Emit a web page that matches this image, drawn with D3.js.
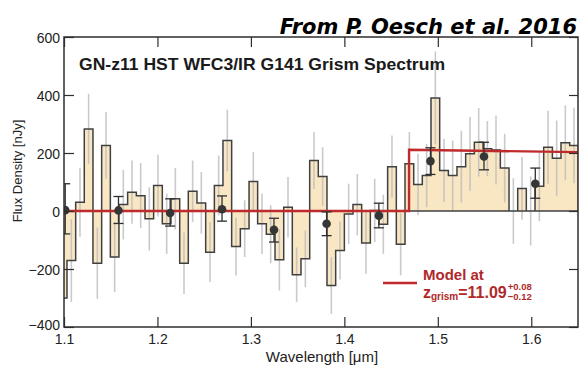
<!DOCTYPE html>
<html>
<head>
<meta charset="utf-8">
<script src="https://cdn.jsdelivr.net/npm/d3@7"></script>
<style>
  body { margin: 0; background: #fff; }
  svg { display: block; }
</style>
</head>
<body>
<div id="chart"></div>
<script>
// binned grism spectrum: left edges of each bin (last value closes the last bin)
const binEdges = [
  1.0939, 1.1032, 1.1125, 1.1217, 1.1310, 1.1403, 1.1496, 1.1588, 1.1681, 1.1774,
  1.1867, 1.1959, 1.2052, 1.2145, 1.2238, 1.2330, 1.2423, 1.2516, 1.2609, 1.2701,
  1.2794, 1.2887, 1.2980, 1.3072, 1.3165, 1.3258, 1.3351, 1.3443, 1.3536, 1.3629,
  1.3721, 1.3814, 1.3907, 1.4000, 1.4092, 1.4185, 1.4278, 1.4371, 1.4463, 1.4556,
  1.4649, 1.4742, 1.4834, 1.4927, 1.5020, 1.5113, 1.5205, 1.5298, 1.5391, 1.5484,
  1.5576, 1.5669, 1.5762, 1.5855, 1.5947, 1.6040, 1.6133, 1.6226, 1.6318, 1.6411,
  1.6504
];
// flux density per bin [nJy]
const binFlux = [
  -300, -171, 30, 283, -180, 226, -159, 22, 65, 53,
  -27, 88, -44, 42, -180, 68, 28, -142, 88, 243,
  -122, -61, 102, -44, -80, -168, 13, -220, -165, 174,
  119, -257, -136, -10, 22, -110, 2, -46, 153, -115,
  163, 91, 122, 390, 140, 122, 153, 197, 237, 215,
  210, 148, 0, 78, 0, 85, 220, 182, 235, 226
];
// 1 sigma uncertainty per bin (grey bars)
const binErr = [
  120, 143, 119, 121, 123, 115, 121, 120, 109, 112,
  109, 107, 104, 106, 106, 106, 106, 103, 103, 106,
  100, 98, 101, 104, 100, 106, 104, 94, 98, 98,
  101, 98, 100, 104, 106, 106, 109, 102, 107, 107,
  109, 106, 109, 160, 109, 121, 124, 127, 118, 95,
  119, 118, 113, 108, 119, 120, 126, 130, 129, 130
];

// averaged points with error bars
const ptWave = [1.1013, 1.1583, 1.2136, 1.2691, 1.3247, 1.3810, 1.4369, 1.4921, 1.5494, 1.6043];
const ptFlux = [3, 2, -7, 6, -65, -44, -16, 172, 188, 94];
const ptHi = [94, 50, 42, 52, -25, -3, 27, 218, 237, 148];
const ptLo = [-79, -43, -52, -35, -107, -85, -58, 126, 142, 44];

// break model
const modelWave = [1.1, 1.4692, 1.4692, 1.65];
const modelFlux = [0, 0, 211, 203];

const xTicks = [1.1, 1.2, 1.3, 1.4, 1.5, 1.6];
const yTicks = [-400, -200, 0, 200, 400, 600];

const W = 587, H = 368;
const margin = { top: 37, right: 9, bottom: 41, left: 64 };
const ink = '#2e2e2e';
const red = '#bf2a2c';

const svg = d3.select('#chart').append('svg')
  .attr('width', W)
  .attr('height', H)
  .style('font-family', '"Liberation Sans", Arial, sans-serif');

const x = d3.scaleLinear()
  .domain([1.1, 1.65])
  .range([margin.left, W - margin.right]);

const y = d3.scaleLinear()
  .domain([-400, 600])
  .range([H - margin.bottom, margin.top]);

svg.append('defs').append('clipPath')
  .attr('id', 'plot-clip')
  .append('rect')
  .attr('x', margin.left)
  .attr('y', margin.top)
  .attr('width', x.range()[1] - x.range()[0])
  .attr('height', y.range()[0] - y.range()[1]);

const plot = svg.append('g').attr('clip-path', 'url(#plot-clip)');

// step data: repeat last value at closing edge
const steps = binEdges.map((w, i) => ({ w, f: binFlux[Math.min(i, binFlux.length - 1)] }));

const area = d3.area()
  .x(d => x(d.w))
  .y0(y(0))
  .y1(d => y(d.f))
  .curve(d3.curveStepAfter);

plot.append('path')
  .datum(steps)
  .attr('d', area)
  .attr('fill', '#f9e7c3');

// grey uncertainties
const bins = binFlux.map((f, i) => ({ c: (binEdges[i] + binEdges[i + 1]) / 2, f, e: binErr[i] }));
plot.selectAll('line.err')
  .data(bins)
  .join('line')
  .attr('class', 'err')
  .attr('x1', d => x(d.c))
  .attr('x2', d => x(d.c))
  .attr('y1', d => y(d.f - d.e))
  .attr('y2', d => y(d.f + d.e))
  .attr('stroke', '#bdbdbd')
  .attr('stroke-opacity', 0.8)
  .attr('stroke-width', 1.6);

// outline of the histogram
plot.append('path')
  .datum(steps)
  .attr('d', area)
  .attr('fill', 'none')
  .attr('stroke', '#404040')
  .attr('stroke-width', 1.5);

// model
plot.append('path')
  .datum(modelWave.map((w, i) => [w, modelFlux[i]]))
  .attr('d', d3.line().x(d => x(d[0])).y(d => y(d[1])))
  .attr('fill', 'none')
  .attr('stroke', red)
  .attr('stroke-width', 2.4);

// binned points
const pts = ptWave.map((w, i) => ({ w, f: ptFlux[i], hi: ptHi[i], lo: ptLo[i] }));
const pg = plot.selectAll('g.pt')
  .data(pts)
  .join('g')
  .attr('class', 'pt');

pg.append('line')
  .attr('x1', d => x(d.w)).attr('x2', d => x(d.w))
  .attr('y1', d => y(d.lo)).attr('y2', d => y(d.hi))
  .attr('stroke', ink).attr('stroke-width', 1.3);
pg.append('line')
  .attr('x1', d => x(d.w) - 5).attr('x2', d => x(d.w) + 5)
  .attr('y1', d => y(d.hi)).attr('y2', d => y(d.hi))
  .attr('stroke', ink).attr('stroke-width', 1.3);
pg.append('line')
  .attr('x1', d => x(d.w) - 5).attr('x2', d => x(d.w) + 5)
  .attr('y1', d => y(d.lo)).attr('y2', d => y(d.lo))
  .attr('stroke', ink).attr('stroke-width', 1.3);
pg.append('circle')
  .attr('cx', d => x(d.w))
  .attr('cy', d => y(d.f))
  .attr('r', 4.3)
  .attr('fill', '#363636');

// axes, ticks on all four sides pointing inward
const fmtY = d => d < 0 ? '\u2212' + Math.abs(d) : String(d);

const axB = svg.append('g')
  .attr('transform', `translate(0,${y(-400)})`)
  .call(d3.axisBottom(x).tickValues(xTicks).tickFormat(d3.format('.1f')).tickSizeInner(-10).tickSizeOuter(0).tickPadding(7));
const axT = svg.append('g')
  .attr('transform', `translate(0,${y(600)})`)
  .call(d3.axisTop(x).tickValues(xTicks).tickFormat('').tickSizeInner(-10).tickSizeOuter(0));
const axL = svg.append('g')
  .attr('transform', `translate(${x(1.1)},0)`)
  .call(d3.axisLeft(y).tickValues(yTicks).tickFormat(fmtY).tickSizeInner(-10).tickSizeOuter(0).tickPadding(4));
const axR = svg.append('g')
  .attr('transform', `translate(${x(1.65)},0)`)
  .call(d3.axisRight(y).tickValues(yTicks).tickFormat('').tickSizeInner(-9).tickSizeOuter(0));

[axB, axT, axL, axR].forEach(a => {
  a.select('.domain').remove();
  a.selectAll('line').attr('stroke', ink).attr('stroke-width', 1.2);
  a.selectAll('text')
    .attr('fill', '#222')
    .style('font-size', '14px')
    .style('font-family', '"Liberation Sans", Arial, sans-serif');
});
axL.selectAll('text').attr('dy', '0.36em');
// the lowest label sits a little higher so it clears the 1.1 label
axL.selectAll('.tick').filter(d => d === -400).select('text').attr('dy', '0.2em');

// frame
svg.append('rect')
  .attr('x', x(1.1))
  .attr('y', y(600))
  .attr('width', x(1.65) - x(1.1))
  .attr('height', y(-400) - y(600))
  .attr('fill', 'none')
  .attr('stroke', ink)
  .attr('stroke-width', 1.5);

// titles
svg.append('text')
  .attr('x', 79)
  .attr('y', 70)
  .attr('textLength', 366)
  .attr('lengthAdjust', 'spacingAndGlyphs')
  .style('font-size', '16.5px')
  .style('font-weight', 'bold')
  .attr('fill', '#1a1a1a')
  .text('GN-z11 HST WFC3/IR G141 Grism Spectrum');

svg.append('text')
  .attr('x', 577)
  .attr('y', 34)
  .attr('text-anchor', 'end')
  .style('font-family', '"DejaVu Sans", Verdana, sans-serif')
  .style('font-size', '21px')
  .style('font-weight', 'bold')
  .style('font-style', 'italic')
  .attr('fill', '#000')
  .text('From P. Oesch et al. 2016');

svg.append('text')
  .attr('x', 322)
  .attr('y', 362)
  .attr('text-anchor', 'middle')
  .style('font-size', '15px')
  .attr('fill', '#222')
  .text('Wavelength [\u03bcm]');

svg.append('text')
  .attr('transform', 'translate(22,171) rotate(-90)')
  .attr('text-anchor', 'middle')
  .style('font-size', '13px')
  .attr('fill', '#222')
  .text('Flux Density [nJy]');

// legend
svg.append('line')
  .attr('x1', 383).attr('x2', 417)
  .attr('y1', 283).attr('y2', 283)
  .attr('stroke', red)
  .attr('stroke-width', 2.4);

const lg = svg.append('g')
  .attr('fill', '#b0282a')
  .style('font-weight', 'bold');

lg.append('text')
  .attr('x', 423)
  .attr('y', 280)
  .style('font-size', '15px')
  .text('Model at');

const zt = lg.append('text')
  .attr('x', 423)
  .attr('y', 298)
  .style('font-size', '16px');
zt.append('tspan').text('z');
zt.append('tspan').attr('dy', 2).style('font-size', '10px').text('grism');
zt.append('tspan').attr('dy', -2).text('=11.09');

// limits sit right after the value
const zEnd = 423 + zt.node().getComputedTextLength() + 1;
lg.append('text')
  .attr('x', zEnd)
  .attr('y', 290)
  .style('font-size', '9.5px')
  .text('+0.08');
lg.append('text')
  .attr('x', zEnd)
  .attr('y', 300)
  .style('font-size', '9.5px')
  .text('\u22120.12');
</script>
</body>
</html>
